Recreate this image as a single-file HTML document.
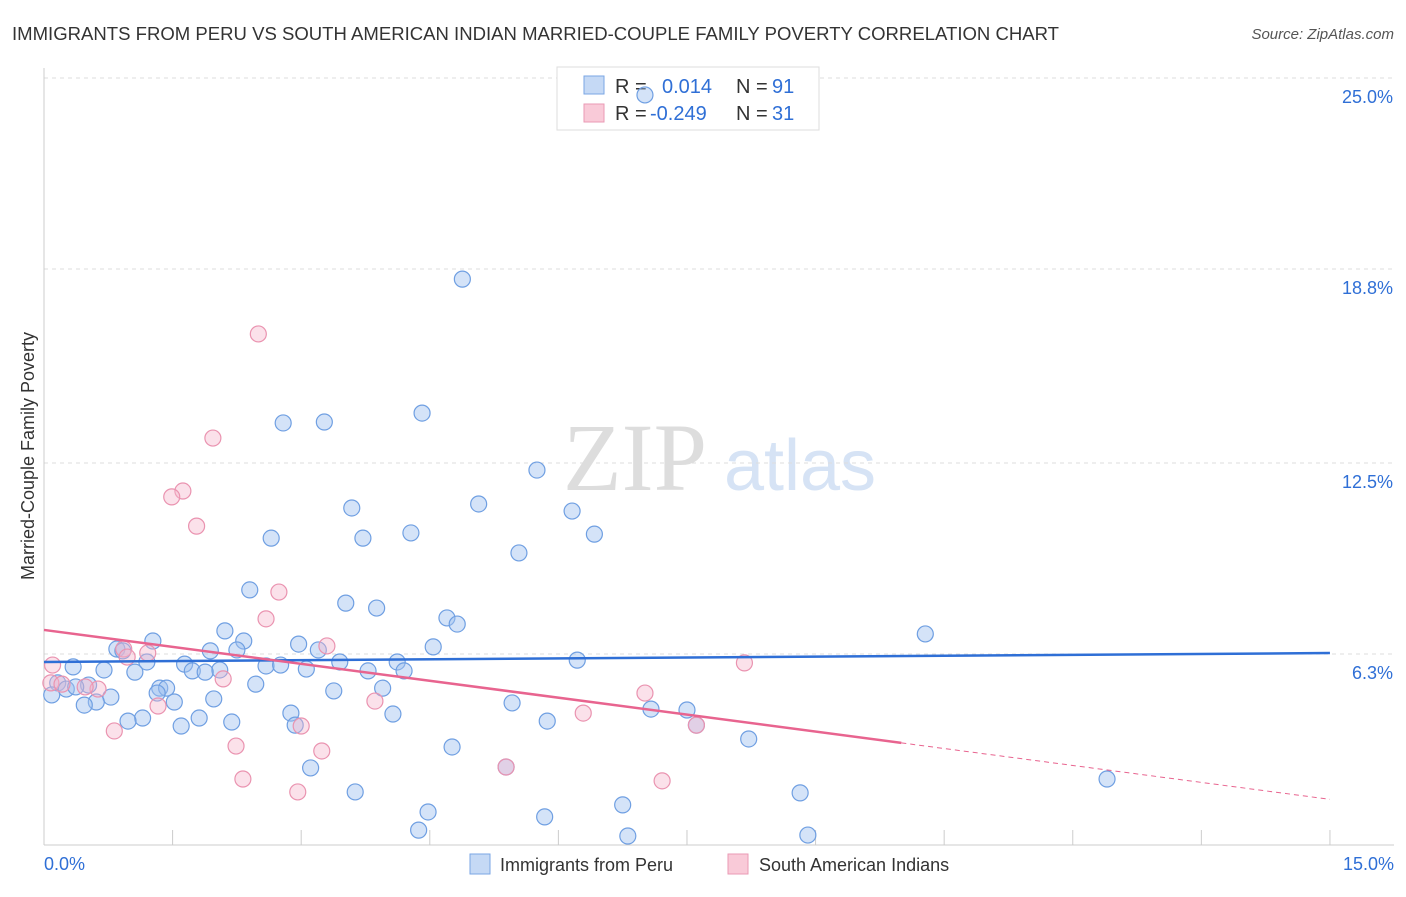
<!DOCTYPE html>
<html><head><meta charset="utf-8"><style>
body{margin:0;background:#fff;font-family:"Liberation Sans",sans-serif;}
</style></head><body>
<svg id="chart" width="1406" height="892" xmlns="http://www.w3.org/2000/svg" style="font-family:'Liberation Sans',sans-serif">
<text x="12" y="40" font-size="18" fill="#333" textLength="1047" lengthAdjust="spacingAndGlyphs">IMMIGRANTS FROM PERU VS SOUTH AMERICAN INDIAN MARRIED-COUPLE FAMILY POVERTY CORRELATION CHART</text>
<text x="1394" y="39" font-size="15" fill="#555" font-style="italic" text-anchor="end">Source: ZipAtlas.com</text>
<text transform="translate(34,456) rotate(-90)" font-size="18" fill="#333" text-anchor="middle">Married-Couple Family Poverty</text>
<g>
<text x="635" y="490" font-size="96" fill="#ddd" font-family="'Liberation Serif',serif" text-anchor="middle">ZIP</text>
<text x="800" y="490" font-size="72" fill="#d6e3f5" text-anchor="middle">atlas</text>
</g>
<g id="grid"></g><g id="axes"></g>
<g>
<rect x="557" y="67" width="262" height="63" fill="#fff" stroke="#ddd"/>
<rect x="584" y="76" width="20" height="18" fill="#c5d9f5" stroke="#7aa6e4"/>
<rect x="584" y="104" width="20" height="18" fill="#f9cad8" stroke="#ea9ab4"/>
<text x="615" y="93" font-size="20" fill="#333">R =</text><text x="662" y="93" font-size="20" fill="#2f6fd6">0.014</text>
<text x="736" y="93" font-size="20" fill="#333">N =</text><text x="772" y="93" font-size="20" fill="#2f6fd6">91</text>
<text x="615" y="120" font-size="20" fill="#333">R =</text><text x="650" y="120" font-size="20" fill="#2f6fd6">-0.249</text>
<text x="736" y="120" font-size="20" fill="#333">N =</text><text x="772" y="120" font-size="20" fill="#2f6fd6">31</text>
</g>
<g id="marks"></g>
<g>
<rect x="470" y="854" width="20" height="20" fill="#c5d9f5" stroke="#7aa6e4"/>
<text x="500" y="871" font-size="18" fill="#333">Immigrants from Peru</text>
<rect x="728" y="854" width="20" height="20" fill="#f9cad8" stroke="#ea9ab4"/>
<text x="759" y="871" font-size="18" fill="#333">South American Indians</text>
</g>
</svg>
<script>
const blueX=[4.88,4.41,2.79,3.27,5.75,5.07,3.59,6.16,2.65,3.72,4.28,6.42,5.54,2.40,3.52,3.88,4.70,4.82,10.28,1.27,2.11,2.33,2.97,3.20,4.54,0.85,0.92,1.94,2.25,6.22,4.12,3.45,1.20,1.64,2.59,2.76,0.34,0.70,1.73,2.05,1.88,3.06,4.20,3.78,1.06,0.52,0.78,0.16,0.26,0.37,1.35,1.43,1.32,2.47,3.95,3.38,1.98,1.52,5.46,0.61,0.47,0.09,2.88,4.07,1.15,0.98,1.81,2.19,2.93,5.87,7.08,7.50,7.61,1.60,8.22,4.76,3.11,5.39,3.63,8.82,12.40,4.48,6.75,5.84,4.37,6.81,8.91,7.01];
const blueY=[18.47,14.12,13.80,13.83,12.27,11.17,11.04,10.94,10.06,10.06,10.23,10.19,9.58,8.38,7.95,7.79,7.47,7.27,6.95,6.72,7.05,6.72,6.62,6.43,6.53,6.46,6.40,6.40,6.43,6.10,6.04,6.04,6.04,5.97,5.91,5.94,5.88,5.78,5.75,5.78,5.71,5.81,5.75,5.75,5.71,5.29,4.90,5.36,5.16,5.23,5.19,5.19,5.03,5.32,5.19,5.10,4.84,4.74,4.71,4.74,4.64,4.97,4.38,4.35,4.22,4.12,4.22,4.09,3.99,4.12,4.51,4.48,3.99,3.96,3.54,3.28,2.60,2.63,1.82,1.79,2.24,1.17,1.40,1.01,0.58,0.39,0.42,24.45];
const pinkX=[2.50,1.97,1.62,1.49,1.78,2.74,2.59,0.93,1.21,0.97,3.30,8.17,2.09,0.10,0.08,0.63,7.01,3.86,1.33,6.29,3.00,0.82,2.24,3.24,5.39,2.32,2.96,7.21,7.61,0.21,0.48];
const pinkY=[16.69,13.31,11.59,11.40,10.45,8.31,7.44,6.46,6.33,6.20,6.56,6.01,5.49,5.94,5.36,5.16,5.03,4.77,4.61,4.38,3.96,3.80,3.31,3.15,2.63,2.24,1.82,2.18,3.99,5.32,5.23];
const yTicks=[6.3,12.5,18.8,25.0];
const yTickLabels=["6.3%","12.5%","18.8%","25.0%"];
const xTickLabels=["0.0%","15.0%"];
const blueTrend=[6.04,6.33];
const pinkTrend=[7.08,1.58];
const pinkSolidEnd=10.0;
const NS="http://www.w3.org/2000/svg";
const X=v=>44+v*85.73, Y=v=>848-v*30.8;
function mk(t,a,p){const e=document.createElementNS(NS,t);for(const k in a)e.setAttribute(k,a[k]);p.appendChild(e);return e;}
const grid=document.getElementById('grid'),axes=document.getElementById('axes'),marks=document.getElementById('marks');
yTicks.forEach((v,i)=>{
 const l=mk('line',{x1:44,x2:1394,y1:Y(v),y2:Y(v),stroke:'#ddd','stroke-dasharray':'4 4'},grid);
 
 
 const t=mk('text',{x:1393,y:Y(v)+25,'font-size':18,fill:'#2f6fd6','text-anchor':'end'},axes);
 t.textContent=yTickLabels[i];
 
 
});
const la=mk('line',{x1:44,x2:44,y1:68,y2:845,stroke:'#ccc'},axes);


const ba=mk('line',{x1:44,x2:1394,y1:845,y2:845,stroke:'#ccc'},axes);


for(let i=0;i<=10;i++){const tk=mk('line',{x1:X(i*1.5),x2:X(i*1.5),y1:830,y2:845,stroke:'#ccc'},axes);
 
 }
[[0,'start',44],[1,'end',1394]].forEach(([i,a,x])=>{const t=mk('text',{x:x,y:870,'font-size':18,fill:'#2f6fd6','text-anchor':a},axes);t.textContent=xTickLabels[i];
 
 });
blueX.forEach((v,i)=>{const c=mk('circle',{cx:X(v),cy:Y(blueY[i]),r:8,fill:'rgba(160,194,240,0.45)',stroke:'#6f9fe2','stroke-width':1.2},marks);
 
 });
pinkX.forEach((v,i)=>{const c=mk('circle',{cx:X(v),cy:Y(pinkY[i]),r:8,fill:'rgba(246,180,202,0.4)',stroke:'#ea93b0','stroke-width':1.2},marks);
 
 });
const bt=mk('line',{x1:X(0),y1:Y(blueTrend[0]),x2:X(15),y2:Y(blueTrend[1]),stroke:'#2f6fd6','stroke-width':2.5},marks);


const pm=pinkTrend[0]+(pinkTrend[1]-pinkTrend[0])*pinkSolidEnd/15;
const pt=mk('line',{x1:X(0),y1:Y(pinkTrend[0]),x2:X(pinkSolidEnd),y2:Y(pm),stroke:'#e8648f','stroke-width':2.5},marks);


const pd=mk('line',{x1:X(pinkSolidEnd),y1:Y(pm),x2:X(15),y2:Y(pinkTrend[1]),stroke:'#e8648f','stroke-width':1,'stroke-dasharray':'5 4'},marks);


</script>
</body></html>
